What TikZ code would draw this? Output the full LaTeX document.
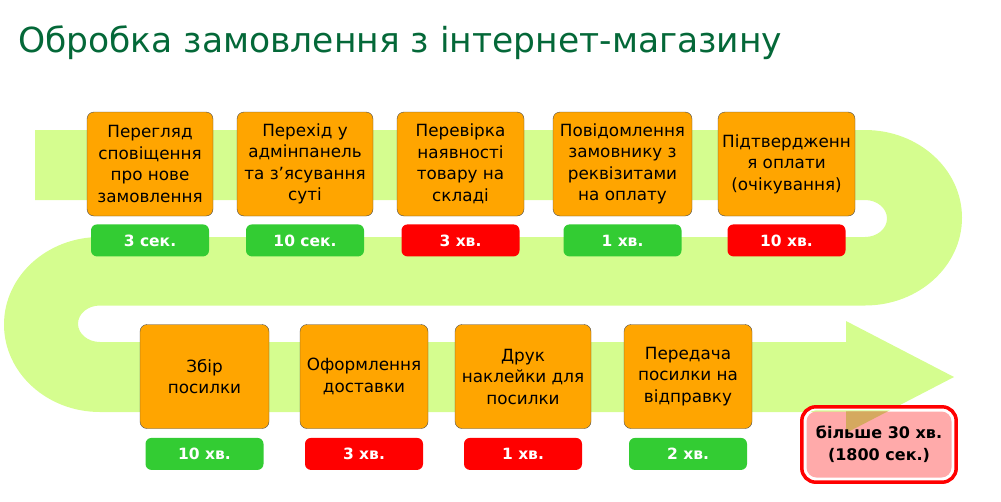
\documentclass[tikz,border=0pt]{standalone}
\usepackage{fontspec}
\setmainfont{DejaVu Sans}
\newfontfamily\titlefont{DejaVu Sans}
\newfontfamily\badgefont{DejaVu Sans}
\usetikzlibrary{positioning,fit}
\definecolor{bandgreen}{RGB}{213,253,143}
\definecolor{titlegreen}{RGB}{4,104,56}
\definecolor{stepfill}{RGB}{255,165,0}
\definecolor{okgreen}{RGB}{51,204,51}
\definecolor{badred}{RGB}{255,0,0}
\definecolor{totalpink}{RGB}{255,170,170}
\definecolor{totaltan}{RGB}{213,169,95}
\tikzset{
  stepbox/.style={draw=black!70, fill=stepfill, rounded corners=7, minimum width=#1,
    minimum height=104, align=center, inner sep=1, text=black,
    font=\fontsize{16.8}{21.5}\selectfont},
  badge/.style={fill=#1, rounded corners=6, minimum width=118, minimum height=32,
    inner sep=0, text=white, font=\badgefont\bfseries\fontsize{15.5}{18}\selectfont},
  timebox/.style={rounded corners=10, minimum width=145, minimum height=66,
    align=center, inner sep=0, font=\badgefont\bfseries\fontsize{16}{22}\selectfont},
}
\begin{document}
\begin{tikzpicture}[x=1pt,y=-1pt]
  \useasboundingbox (0,0) rectangle (1001,501);
  % title
  \node (title) [anchor=base west, inner sep=0, text=titlegreen,
    font=\titlefont\fontsize{34.5}{40}\selectfont] at (18,52) {Обробка замовлення з інтернет-магазину};
  % snake band with arrow head
  \fill[bandgreen] (35,130) -- (865,130)
    arc[start angle=-90, end angle=90, x radius=97, y radius=87.75]% right turn, outside
    -- (100,305.5)
    arc[start angle=270, end angle=90, x radius=22, y radius=18.25]% left turn, inside
    -- (846,342) -- (846,321) -- (954,377) -- (846,433) -- (846,412)% arrow head
    -- (100,412)
    arc[start angle=90, end angle=270, x radius=96, y radius=87.5]% left turn, outside
    -- (865,237)
    arc[start angle=90, end angle=-90, x radius=22, y radius=18.5]% right turn, inside
    -- (35,200) -- cycle;
  % upper row
  \node (s1) [stepbox=126] at (150,164) {Перегляд\\сповіщення\\про нове\\замовлення};
  \node (s2) [stepbox=136] at (305,164) {Перехід у\\адмінпанель\\та з’ясування\\суті};
  \node (s3) [stepbox=127] at (460.5,164) {Перевірка\\наявності\\товару на\\складі};
  \node (s4) [stepbox=139] at (622.5,164) {Повідомлення\\замовнику з\\реквізитами\\на оплату};
  \node (s5) [stepbox=137] at (786.5,164) {Підтвердженн\\я оплати\\(очікування)};
  \node (t1) [badge=okgreen, below=8pt of s1] {3 сек.};
  \node (t2) [badge=okgreen, below=8pt of s2] {10 сек.};
  \node (t3) [badge=badred, below=8pt of s3] {3 хв.};
  \node (t4) [badge=okgreen, below=8pt of s4] {1 хв.};
  \node (t5) [badge=badred, below=8pt of s5] {10 хв.};
  % lower row
  \node (s6) [stepbox=129] at (204.5,376.5) {Збір\\посилки};
  \node (s7) [stepbox=128] at (364,376.5) {Оформлення\\доставки};
  \node (s8) [stepbox=136] at (523,376.5) {Друк\\наклейки для\\посилки};
  \node (s9) [stepbox=128] at (688,376.5) {Передача\\посилки на\\відправку};
  \node (t6) [badge=okgreen, below=9pt of s6] {10 хв.};
  \node (t7) [badge=badred, below=9pt of s7] {3 хв.};
  \node (t8) [badge=badred, below=9pt of s8] {1 хв.};
  \node (t9) [badge=okgreen, below=9pt of s9] {2 хв.};
  % total
  \node (totalbg) [timebox, fill=totalpink] at (879,444.5) {};
  \begin{scope}
    \clip[rounded corners=10] (totalbg.north west) rectangle (totalbg.south east);
    \fill[totaltan] (846,321) -- (954,377) -- (846,433) -- cycle;% arrow head seen through
  \end{scope}
  \node (total) [timebox] at (totalbg) {більше 30 хв.\\(1800 сек.)};
  \node (ring) [fit=(totalbg), inner sep=2.5, draw=white, line width=3, rounded corners=12] {};
  \node (frame) [fit=(totalbg), inner sep=4.5, draw=badred, line width=3.5, rounded corners=14] {};
\end{tikzpicture}
\end{document}
